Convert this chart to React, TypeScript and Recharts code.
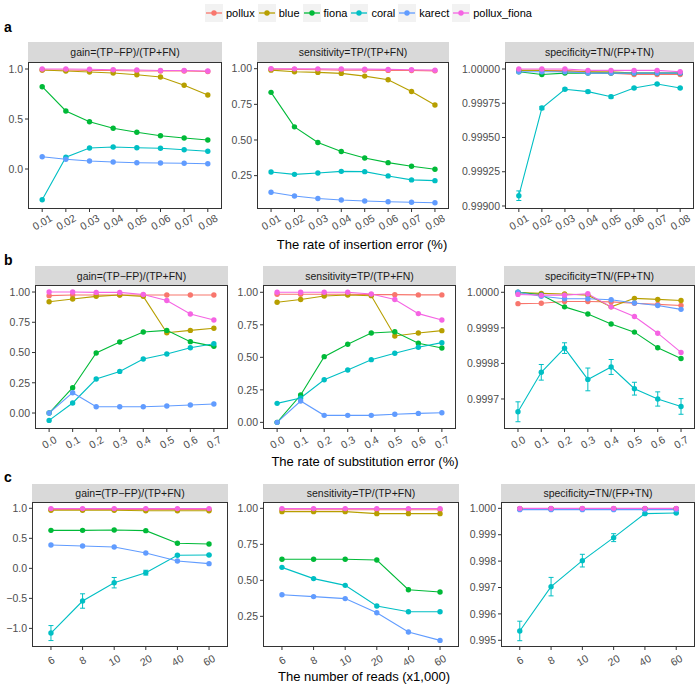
import React from "react";
import { ErrorBar, Line, LineChart, XAxis, YAxis } from "recharts";

const SERIES = ["pollux", "blue", "fiona", "coral", "karect", "pollux_fiona"];
const COLORS: Record<string, string> = {
  pollux: "#F8766D",
  blue: "#B79F00",
  fiona: "#00BA38",
  coral: "#00BFC4",
  karect: "#619CFF",
  pollux_fiona: "#F564E3",
};

const insertionRates = ["0.01", "0.02", "0.03", "0.04", "0.05", "0.06", "0.07", "0.08"];
const substitutionRates = ["0.0", "0.1", "0.2", "0.3", "0.4", "0.5", "0.6", "0.7"];
const readCounts = ["6", "8", "10", "20", "40", "60"];

// row a: insertion error
const insGain: Record<string, number[]> = {
  pollux: [0.99, 0.99, 0.985, 0.985, 0.98, 0.98, 0.98, 0.975],
  blue: [0.99, 0.98, 0.97, 0.96, 0.943, 0.92, 0.837, 0.74],
  fiona: [0.823, 0.58, 0.473, 0.407, 0.367, 0.333, 0.31, 0.29],
  coral: [-0.307, 0.117, 0.21, 0.22, 0.213, 0.207, 0.193, 0.177],
  karect: [0.123, 0.097, 0.08, 0.07, 0.063, 0.06, 0.057, 0.053],
  pollux_fiona: [1.0, 1.0, 0.998, 0.992, 0.99, 0.985, 0.985, 0.98],
};
const insSens: Record<string, number[]> = {
  pollux: [0.997, 0.995, 0.993, 0.99, 0.99, 0.988, 0.987, 0.985],
  blue: [0.99, 0.979, 0.974, 0.967, 0.948, 0.923, 0.84, 0.745],
  fiona: [0.834, 0.592, 0.482, 0.419, 0.374, 0.341, 0.316, 0.295],
  coral: [0.276, 0.259, 0.269, 0.28, 0.278, 0.248, 0.22, 0.215],
  karect: [0.133, 0.107, 0.09, 0.079, 0.072, 0.067, 0.063, 0.06],
  pollux_fiona: [1.0, 0.999, 0.999, 0.998, 0.997, 0.995, 0.993, 0.99],
};
const insSpec: Record<string, number[]> = {
  pollux: [0.99999, 0.99999, 0.99999, 0.99998, 0.99997, 0.99996, 0.99996, 0.99996],
  blue: [0.99999, 0.99999, 0.99998, 0.99998, 0.99998, 0.99997, 0.99997, 0.99997],
  fiona: [0.99998, 0.99996, 0.99997, 0.99997, 0.99997, 0.99997, 0.99997, 0.99997],
  coral: [0.999075, 0.999715, 0.999852, 0.999835, 0.999798, 0.999861, 0.99989, 0.999861],
  karect: [0.99998, 0.99998, 0.99998, 0.99997, 0.99997, 0.99997, 0.99997, 0.99997],
  pollux_fiona: [1.0, 1.0, 1.0, 0.99999, 0.99999, 0.99999, 0.99999, 0.99998],
};
const insSpecCoralErr = [0.000035, 0.000012, 0.000008, 0.00001, 0.00001, 0.000006, 0.000005, 0.000005];

// row b: substitution error
const subGain: Record<string, number[]> = {
  pollux: [0.97, 0.975, 0.975, 0.975, 0.975, 0.975, 0.975, 0.975],
  blue: [0.92, 0.942, 0.964, 0.975, 0.964, 0.664, 0.683, 0.7],
  fiona: [0.0, 0.209, 0.496, 0.587, 0.669, 0.683, 0.59, 0.551],
  coral: [-0.061, 0.083, 0.281, 0.344, 0.446, 0.488, 0.54, 0.573],
  karect: [0.0, 0.168, 0.052, 0.052, 0.052, 0.058, 0.066, 0.074],
  pollux_fiona: [1.0, 1.0, 0.997, 0.997, 0.98, 0.93, 0.818, 0.769],
};
const subSens: Record<string, number[]> = {
  pollux: [0.985, 0.985, 0.985, 0.985, 0.982, 0.982, 0.98, 0.98],
  blue: [0.923, 0.944, 0.972, 0.979, 0.974, 0.664, 0.687, 0.705],
  fiona: [0.0, 0.21, 0.505, 0.6, 0.687, 0.697, 0.608, 0.572],
  coral: [0.146, 0.187, 0.328, 0.403, 0.482, 0.531, 0.577, 0.613],
  karect: [0.0, 0.164, 0.054, 0.054, 0.054, 0.062, 0.069, 0.074],
  pollux_fiona: [1.0, 1.0, 1.0, 1.0, 0.987, 0.944, 0.836, 0.787],
};
const subSpec: Record<string, number[]> = {
  pollux: [0.999968, 0.999969, 0.999974, 0.999974, 0.999973, 0.999969, 0.999966, 0.999963],
  blue: [0.999999, 0.999997, 0.999995, 0.999992, 0.999959, 0.999983, 0.99998, 0.999977],
  fiona: [1.0, 0.999993, 0.999959, 0.999939, 0.999911, 0.999888, 0.999844, 0.999814],
  coral: [0.999664, 0.999775, 0.999843, 0.999755, 0.99979, 0.999729, 0.9997, 0.999679],
  karect: [1.0, 0.999989, 0.999982, 0.999982, 0.999979, 0.99997, 0.999963, 0.999952],
  pollux_fiona: [0.999994, 0.999992, 0.999992, 0.999996, 0.999959, 0.999932, 0.999885, 0.999831],
};
const subSpecCoralErr = [0.000028, 0.000022, 0.000015, 0.000032, 0.000021, 0.000018, 0.00002, 0.000022];

// row c: number of reads
const readGain: Record<string, number[]> = {
  pollux: [0.98, 0.98, 0.98, 0.98, 0.98, 0.98],
  blue: [0.967, 0.967, 0.967, 0.96, 0.96, 0.96],
  fiona: [0.633, 0.633, 0.639, 0.628, 0.417, 0.406],
  coral: [-1.078, -0.544, -0.239, -0.072, 0.217, 0.222],
  karect: [0.389, 0.372, 0.356, 0.256, 0.122, 0.078],
  pollux_fiona: [0.995, 0.995, 0.995, 0.995, 0.995, 0.995],
};
const readGainCoralErr = [0.125, 0.12, 0.087, 0.04, 0.01, 0.01];
const readSens: Record<string, number[]> = {
  pollux: [0.99, 0.99, 0.99, 0.99, 0.99, 0.99],
  blue: [0.977, 0.977, 0.977, 0.963, 0.963, 0.963],
  fiona: [0.646, 0.646, 0.646, 0.641, 0.435, 0.419],
  coral: [0.59, 0.512, 0.465, 0.322, 0.282, 0.282],
  karect: [0.4, 0.387, 0.373, 0.275, 0.141, 0.083],
  pollux_fiona: [0.998, 0.998, 0.998, 0.998, 0.998, 0.998],
};
const readSpec: Record<string, number[]> = {
  pollux: [0.99999, 0.99999, 0.99999, 0.99999, 0.99999, 0.99999],
  blue: [0.99998, 0.99998, 0.99998, 0.99998, 0.99998, 0.99998],
  fiona: [0.99998, 0.99998, 0.99998, 0.99998, 0.99998, 0.99998],
  coral: [0.995354, 0.997033, 0.998018, 0.998889, 0.999798, 0.999823],
  karect: [0.99995, 0.99995, 0.99995, 0.99995, 0.99995, 0.99995],
  pollux_fiona: [1.0, 1.0, 1.0, 1.0, 1.0, 1.0],
};
const readSpecCoralErr = [0.00037, 0.00035, 0.00024, 0.00015, 0.00003, 0.00002];

const GAIN_TITLE = "gain=(TP\u2212FP)/(TP+FN)";
const SENS_TITLE = "sensitivity=TP/(TP+FN)";
const SPEC_TITLE = "specificity=TN/(FP+TN)";

const FONT = '"Liberation Sans", Arial, Helvetica, sans-serif';
const Y_W = 50;
const X_H = 34;

function fmt(v: number, digits: number) {
  const s = Math.abs(v).toFixed(digits);
  return v < -1e-12 ? "\u2212" + s : s;
}

function RotTick(props: any) {
  const { x, payload } = props;
  const cy = props.y + 8;
  return (
    <text
      x={x}
      y={cy}
      transform={`rotate(-30 ${x} ${cy})`}
      textAnchor="middle"
      dominantBaseline="central"
      fontSize={10.5}
      fill="#4D4D4D"
    >
      {payload.value}
    </text>
  );
}

interface PanelProps {
  cats: string[];
  vals: Record<string, number[]>;
  err?: number[];
  left: number;
  right: number;
  stripTop: number;
  top: number;
  bottom: number;
  title: string;
  domain: [number, number];
  ticks: number[];
  digits: number;
}

function Panel({ cats, vals, err, left, right, stripTop, top, bottom, title, domain, ticks, digits }: PanelProps) {
  const plotW = right - left;
  const plotH = bottom - top;
  const pad = (0.6 * plotW) / (cats.length - 1 + 1.2);
  const rows = cats.map((c, i) => {
    const row: Record<string, any> = { x: c };
    SERIES.forEach((s) => (row[s] = vals[s][i]));
    if (err) row.coral_err = err[i];
    return row;
  });
  return (
    <>
      <div
        style={{
          position: "absolute",
          left,
          top: stripTop,
          width: plotW,
          height: top - stripTop,
          background: "#D9D9D9",
          color: "#1A1A1A",
          fontSize: 10.5,
          display: "flex",
          alignItems: "center",
          justifyContent: "center",
        }}
      >
        {title}
      </div>
      <div style={{ position: "absolute", left: left - Y_W, top }}>
        <LineChart width={Y_W + plotW} height={plotH + X_H} data={rows} margin={{ top: 0, right: 0, bottom: 0, left: 0 }}>
          <XAxis
            dataKey="x"
            interval={0}
            padding={{ left: pad, right: pad }}
            height={X_H}
            axisLine={false}
            tickSize={3}
            tickLine={{ stroke: "#333333" }}
            tick={<RotTick />}
          />
          <YAxis
            type="number"
            domain={domain}
            ticks={ticks}
            allowDataOverflow
            width={Y_W}
            axisLine={false}
            tickSize={3}
            tickLine={{ stroke: "#333333" }}
            tick={{ fontSize: 10.5, fill: "#4D4D4D" }}
            tickFormatter={(v: number) => fmt(v, digits)}
          />
          {SERIES.map((s) => (
            <Line
              key={s}
              dataKey={s}
              stroke={COLORS[s]}
              strokeWidth={1.1}
              dot={{ r: 2.7, fill: COLORS[s], stroke: COLORS[s], strokeWidth: 0 }}
              activeDot={false}
              isAnimationActive={false}
            >
              {s === "coral" && err ? (
                <ErrorBar dataKey="coral_err" direction="y" width={2.5} stroke={COLORS.coral} strokeWidth={1} />
              ) : null}
            </Line>
          ))}
        </LineChart>
      </div>
      <div
        style={{
          position: "absolute",
          left,
          top,
          width: plotW,
          height: plotH,
          border: "1px solid #333333",
          boxSizing: "border-box",
          pointerEvents: "none",
        }}
      />
    </>
  );
}

function Legend() {
  return (
    <div style={{ position: "absolute", left: 205, top: 4, display: "flex", alignItems: "center", fontSize: 11 }}>
      {SERIES.map((s) => (
        <div key={s} style={{ display: "flex", alignItems: "center", marginRight: 3 }}>
          <svg width={18} height={18} style={{ background: "#F2F2F2", marginRight: 3 }}>
            <line x1={1} y1={9} x2={17} y2={9} stroke={COLORS[s]} strokeWidth={1.3} />
            <circle cx={9} cy={9} r={2.7} fill={COLORS[s]} />
          </svg>
          <span style={{ color: "#000" }}>{s}</span>
        </div>
      ))}
    </div>
  );
}

function Title({ text, cx, cy }: { text: string; cx: number; cy: number }) {
  return (
    <div
      style={{
        position: "absolute",
        left: cx - 200,
        width: 400,
        top: cy - 8,
        height: 16,
        lineHeight: "16px",
        textAlign: "center",
        fontSize: 13,
      }}
    >
      {text}
    </div>
  );
}

function Tag({ text, y }: { text: string; y: number }) {
  return (
    <div style={{ position: "absolute", left: 4, top: y - 9, fontSize: 14, fontWeight: "bold", lineHeight: "18px" }}>
      {text}
    </div>
  );
}

export default function App() {
  return (
    <div
      style={{
        position: "absolute",
        left: 0,
        top: 0,
        width: 700,
        height: 688,
        background: "#fff",
        fontFamily: FONT,
        overflow: "hidden",
      }}
    >
      <Legend />
      <Tag text="a" y={27} />
      <Tag text="b" y={260} />
      <Tag text="c" y={477} />

      <Panel cats={insertionRates} vals={insGain} left={28} right={222} stripTop={42} top={62} bottom={209}
        title={GAIN_TITLE} domain={[-0.4, 1.07]} ticks={[0, 0.5, 1]} digits={1} />
      <Panel cats={insertionRates} vals={insSens} left={257} right={449} stripTop={42} top={62} bottom={209}
        title={SENS_TITLE} domain={[0.016, 1.047]} ticks={[0.25, 0.5, 0.75, 1]} digits={2} />
      <Panel cats={insertionRates} vals={insSpec} err={insSpecCoralErr} left={505} right={694} stripTop={42} top={62} bottom={209}
        title={SPEC_TITLE} domain={[0.998978, 1.0000511]} ticks={[0.999, 0.99925, 0.9995, 0.99975, 1]} digits={5} />
      <Title text="The rate of insertion error (%)" cx={362} cy={245} />

      <Panel cats={substitutionRates} vals={subGain} left={35} right={228} stripTop={266} top={285} bottom={429}
        title={GAIN_TITLE} domain={[-0.132, 1.058]} ticks={[0, 0.25, 0.5, 0.75, 1]} digits={2} />
      <Panel cats={substitutionRates} vals={subSens} left={263} right={456} stripTop={266} top={285} bottom={429}
        title={SENS_TITLE} domain={[-0.051, 1.056]} ticks={[0, 0.25, 0.5, 0.75, 1]} digits={2} />
      <Panel cats={substitutionRates} vals={subSpec} err={subSpecCoralErr} left={504} right={695} stripTop={266} top={285} bottom={429}
        title={SPEC_TITLE} domain={[0.9996156, 1.0000205]} ticks={[0.9997, 0.9998, 0.9999, 1]} digits={4} />
      <Title text="The rate of substitution error (%)" cx={365} cy={462} />

      <Panel cats={readCounts} vals={readGain} err={readGainCoralErr} left={32} right={228} stripTop={484} top={502} bottom={647}
        title={GAIN_TITLE} domain={[-1.31, 1.105]} ticks={[-1, -0.5, 0, 0.5, 1]} digits={1} />
      <Panel cats={readCounts} vals={readSens} left={263} right={459} stripTop={484} top={502} bottom={647}
        title={SENS_TITLE} domain={[0.037, 1.044]} ticks={[0.25, 0.5, 0.75, 1]} digits={2} />
      <Panel cats={readCounts} vals={readSpec} err={readSpecCoralErr} left={501} right={695} stripTop={484} top={502} bottom={647}
        title={SPEC_TITLE} domain={[0.994746, 1.00024]} ticks={[0.995, 0.996, 0.997, 0.998, 0.999, 1]} digits={3} />
      <Title text="The number of reads (x1,000)" cx={364} cy={677} />
    </div>
  );
}
